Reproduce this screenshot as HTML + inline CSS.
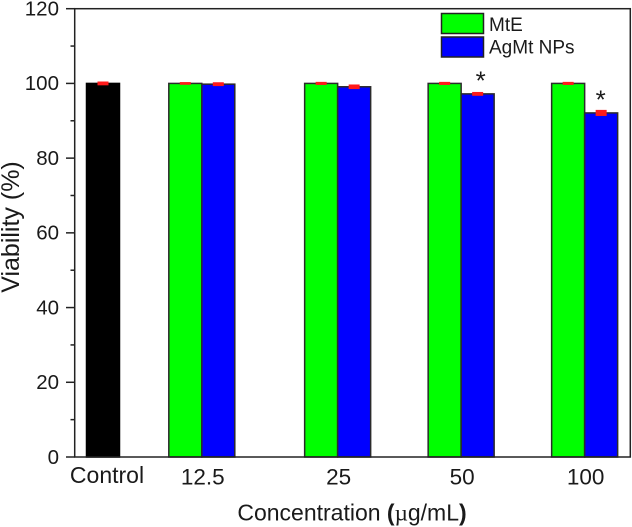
<!DOCTYPE html>
<html>
<head>
<meta charset="utf-8">
<style>
html,body{margin:0;padding:0;background:#fff;}
svg{display:block;}
text{font-family:"Liberation Sans",Arial,sans-serif;fill:#1a1a1a;}
</style>
</head>
<body>
<svg id="chart" width="632" height="527" viewBox="0 0 632 527" xmlns="http://www.w3.org/2000/svg">
<g id="bars"></g>
<g id="axes"></g>
<g id="legend">
  <rect x="441.5" y="13.5" width="42" height="20" fill="#00ff00" stroke="#222" stroke-width="1.5"/>
  <text x="489" y="31" font-size="19">MtE</text>
  <rect x="441.5" y="37" width="42" height="20" fill="#0000ff" stroke="#222" stroke-width="1.5"/>
  <text x="489" y="53.5" font-size="19">AgMt NPs</text>
</g>
<text transform="translate(19,227) rotate(-90)" text-anchor="middle" font-size="25">Viability (%)</text>
<text x="352" y="520.5" text-anchor="middle" font-size="23">Concentration <tspan font-weight="bold">(</tspan><tspan font-family="Liberation Serif">µ</tspan>g/mL<tspan font-weight="bold">)</tspan></text>
</svg>
<script>
const categories = ["Control", "12.5", "25", "50", "100"];
const categoryPositions = [0, 0.8, 1.9, 2.9, 3.9];
const controlValues = [100, null, null, null, null];
const controlErrors = [0.3, null, null, null, null];
const mteValues = [null, 100, 100, 100, 100];
const mteErrors = [null, 0.15, 0.2, 0.2, 0.2];
const agmtValues = [null, 99.8, 99.1, 97.2, 92.1];
const agmtErrors = [null, 0.3, 0.4, 0.3, 0.6];
const significance = [null, null, null, "*", "*"];
const yTicks = [0, 20, 40, 60, 80, 100, 120];
const yMinorTicks = [10, 30, 50, 70, 90, 110];

const NS = "http://www.w3.org/2000/svg";
const barWidth = 33;
function xScale(p) { return 103 + p * 123.5; }
function yScale(v) { return 457 - v * (448.3 / 120); }

function add(parent, tag, attrs) {
  const el = document.createElementNS(NS, tag);
  for (const k in attrs) el.setAttribute(k, attrs[k]);
  parent.appendChild(el);
  return el;
}
const barsG = document.getElementById("bars");
const axesG = document.getElementById("axes");

function drawBar(x, value, error, fill, name) {
  const top = yScale(value);
  const bar = add(barsG, "rect", {x: x, y: top, width: barWidth, height: yScale(0) - top, fill: fill, stroke: fill === "#000000" ? "#000" : "#2b2b2b", "stroke-width": 1.5});
  
  
  const cap = add(barsG, "rect", {
    x: x + barWidth / 2 - 5.5,
    y: yScale(value + error) - 0.8,
    width: 11,
    height: yScale(value - error) - yScale(value + error) + 1.6,
    fill: "#ff1a1a"
  });
  
  
}

categories.forEach(function (cat, i) {
  const cx = xScale(categoryPositions[i]);
  if (controlValues[i] !== null) {
    drawBar(cx - barWidth / 2, controlValues[i], controlErrors[i], "#000000", "bar-control");
  }
  if (mteValues[i] !== null) {
    drawBar(cx - barWidth, mteValues[i], mteErrors[i], "#00ff00", "bar-mte-" + cat);
  }
  if (agmtValues[i] !== null) {
    drawBar(cx, agmtValues[i], agmtErrors[i], "#0000ff", "bar-agmt-" + cat);
  }
  if (significance[i]) {
    const star = add(barsG, "text", {x: cx + barWidth / 2 + (i === 3 ? 3 : -0.5), y: yScale(agmtValues[i]) - 4.5, "text-anchor": "middle", "font-size": 26, fill: "#111"});
    
    
    star.textContent = significance[i];
  }
  const label = add(axesG, "text", {x: cx + (i === 0 ? 4 : 1), y: i === 0 ? 483 : 484.5, "text-anchor": "middle", "font-size": i === 0 ? 23 : 22.5});
  
  
  label.textContent = cat;
});

const frame = add(axesG, "rect", {x: 74.7, y: yScale(120), width: 555.6, height: yScale(0) - yScale(120), fill: "none", stroke: "#222", "stroke-width": 1.5});



yTicks.forEach(function (t) {
  const y = yScale(t);
  const tick = add(axesG, "line", {x1: 66, x2: 74.7, y1: y, y2: y, stroke: "#222", "stroke-width": 1.5});
  
  
  const label = add(axesG, "text", {x: 59, y: y + 6.8, "text-anchor": "end", "font-size": 20.5});
  
  
  label.textContent = t;
});
yMinorTicks.forEach(function (t) {
  const y = yScale(t);
  const tick = add(axesG, "line", {x1: 70.5, x2: 74.7, y1: y, y2: y, stroke: "#222", "stroke-width": 1.5});
  
  
});
</script>
</body>
</html>
